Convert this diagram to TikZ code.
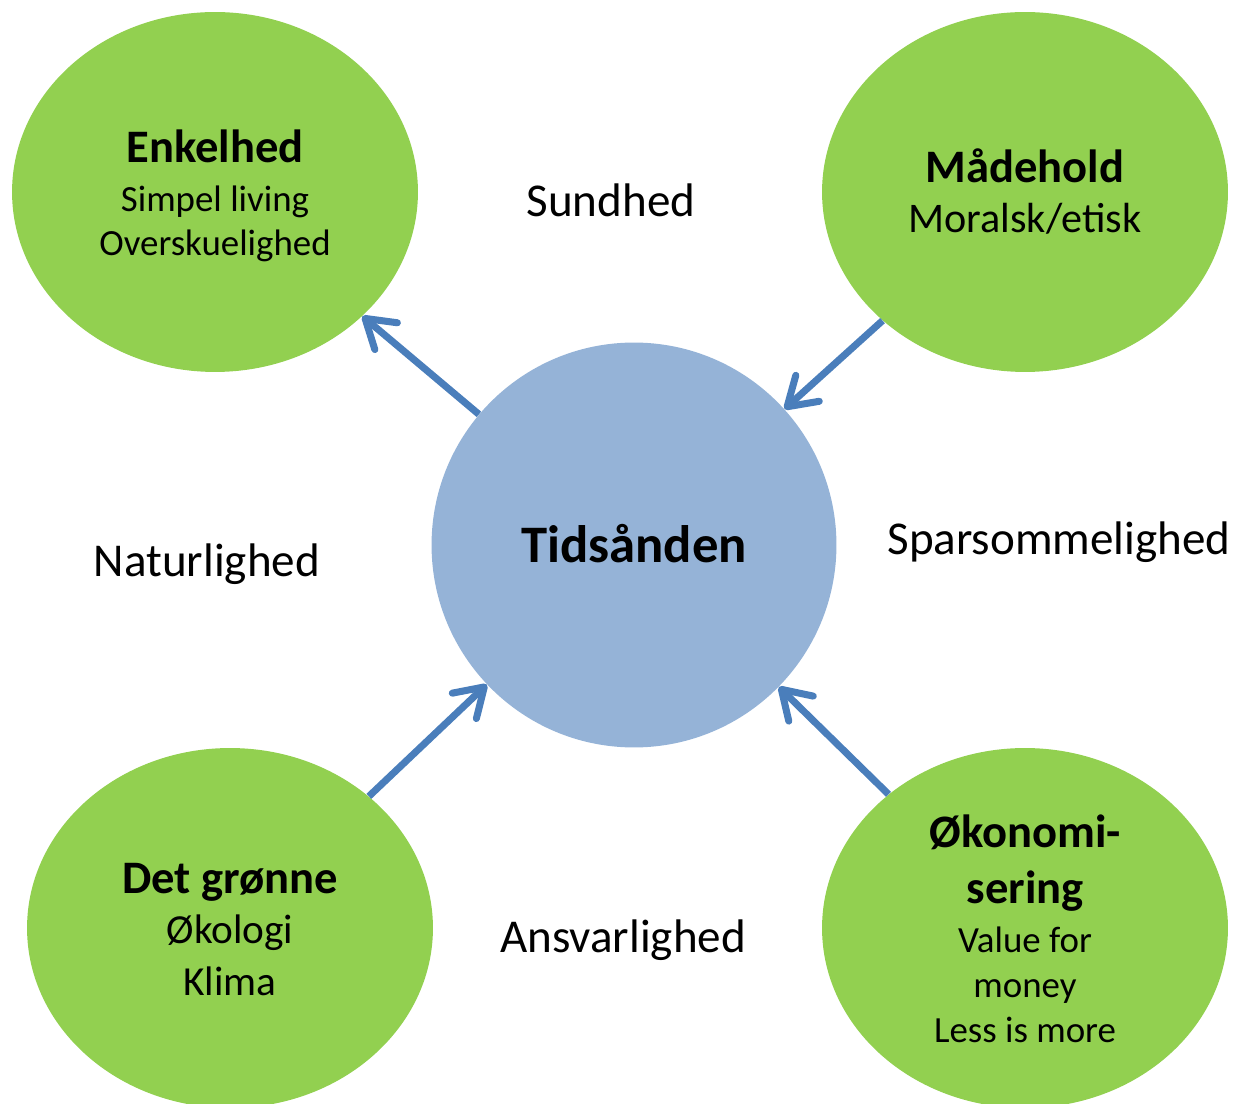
\documentclass[tikz,border=0pt]{standalone}
\usepackage{fontspec}
\setmainfont{Carlito}
\usepackage{tikz}
\usetikzlibrary{shapes.geometric,arrows.meta}
\definecolor{leaf}{HTML}{92D050}
\definecolor{sky}{HTML}{95B3D7}
\definecolor{arrowblue}{HTML}{4A7EBB}

\begin{document}
\begin{tikzpicture}[x=0.02cm,y=-0.02cm,
		disc/.style={ellipse,fill=leaf,minimum width=8.12cm,minimum height=7.2cm,inner sep=0pt},
		hub/.style={circle,fill=sky,minimum size=8.1cm,inner sep=0pt},
		link/.style={arrowblue,line width=4pt,-{Straight Barb[length=5.5mm,width=7mm,round]}},
		head/.style={font=\fontsize{26.5}{30}\selectfont\bfseries,anchor=base},
		sub/.style={font=\fontsize{21}{25}\selectfont,anchor=base},
		word/.style={font=\fontsize{26.8}{30}\selectfont,anchor=base}]
		
		\useasboundingbox (0,0) rectangle (1238,1104);
		
		% circles
		\node[disc] (enk) at (215,192) {};
		\node[disc] (maad) at (1025,192) {};
		\node[hub] (tid) at (634,545) {};
		\node[disc] (groen) at (230,928) {};
		\node[disc] (oek) at (1025,928) {};
		
		% arrows
		\draw[link] (tid) -- (enk);
		\draw[link] (maad) -- (tid);
		\draw[link] (groen) -- (tid);
		\draw[link] (oek) -- (tid);
		
		% texts in the circles
		\node[head] (enkh) at (215,163) {Enkelhed};
		\node[sub] (enka) at (215,212) {Simpel living};
		\node[sub] (enkb) at (215,256) {Overskuelighed};
		\node[head] (maadh) at (1025,183) {Mådehold};
		\node[sub,font=\fontsize{24}{28}\selectfont] (maada) at (1025,233) {Moralsk/etisk};
		\node[head,font=\fontsize{30}{34}\selectfont\bfseries] (tidh) at (634,563) {Tidsånden};
		\node[head] (groenh) at (230,893) {Det grønne};
		\node[sub,font=\fontsize{23.5}{28}\selectfont] (groena) at (230,943) {Økologi};
		\node[sub,font=\fontsize{23.5}{28}\selectfont] (groenb) at (230,995) {Klima};
		\node[head] (oekh) at (1025,847) {Økonomi-};
		\node[head] (oekhb) at (1025,903) {sering};
		\node[sub] (oeka) at (1025,952) {Value for};
		\node[sub] (oekb) at (1025,997) {money};
		\node[sub] (oekc) at (1025,1042) {Less is more};
		
		% words between the circles
		\node[word] (sund) at (611,217) {Sundhed};
		\node[word] (natur) at (207,577) {Naturlighed};
		\node[word] (spar) at (1059,555) {Sparsommelighed};
		\node[word] (ansv) at (623,952) {Ansvarlighed};
		
\end{tikzpicture}
\end{document}
